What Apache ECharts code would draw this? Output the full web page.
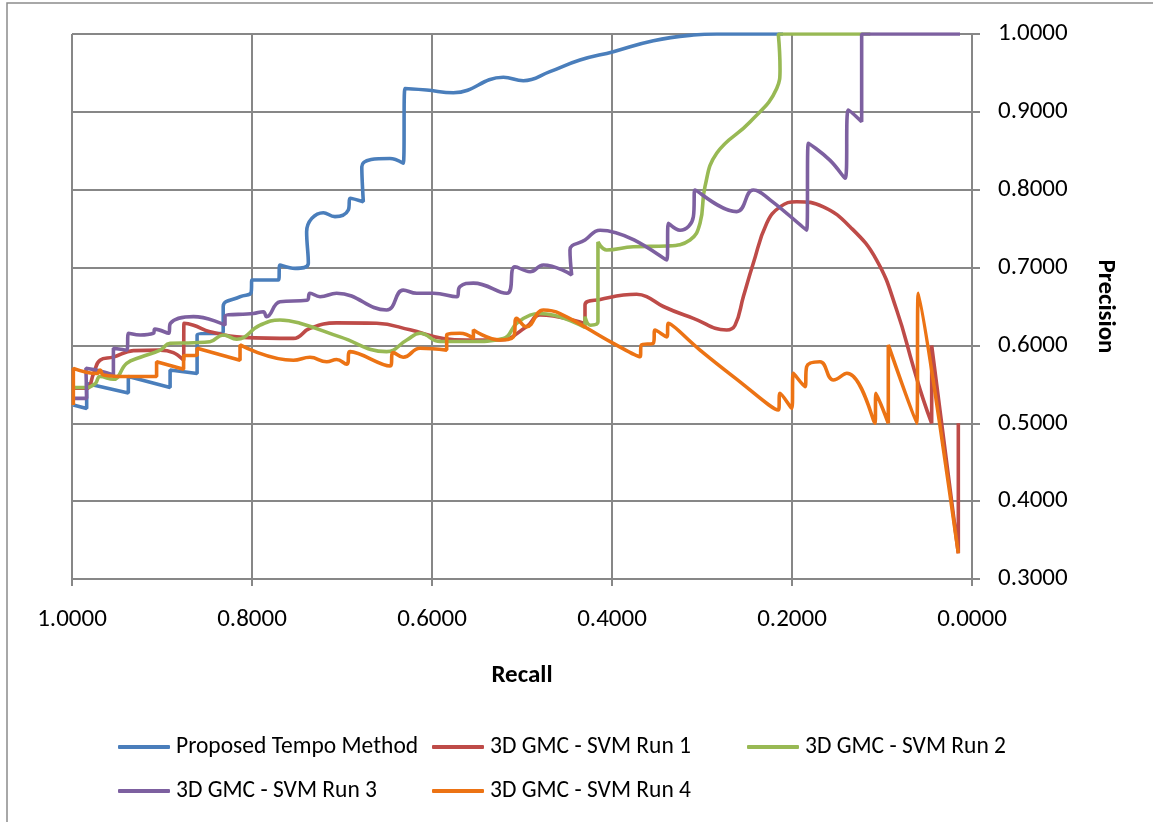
<!DOCTYPE html>
<html>
<head>
<meta charset="utf-8">
<script src="https://cdn.jsdelivr.net/npm/echarts@6/dist/echarts.min.js"></script>
<style>
html,body{margin:0;padding:0;background:#fff;}
#c{width:1153px;height:822px;}
</style>
</head>
<body>
<div id="c"></div>
<script>
// [recall, precision] points
const tempoPts = [[0.9985,0.5235],[0.9837,0.519],[0.9837,0.551],[0.9374,0.539],[0.9374,0.560],[0.891,0.546],[0.891,0.5685],[0.861,0.564],[0.861,0.613],[0.832,0.6177],[0.832,0.650],[0.813,0.6626],[0.801,0.668],[0.800,0.684],[0.7707,0.684],[0.7689,0.7033],[0.7522,0.699],[0.7374,0.7055],[0.7393,0.746],[0.7207,0.7705],[0.7078,0.7654],[0.693,0.774],[0.691,0.789],[0.6763,0.7846],[0.678,0.8296],[0.6467,0.840],[0.632,0.834],[0.630,0.930],[0.606,0.928],[0.5763,0.9246],[0.5207,0.9444],[0.4985,0.940],[0.469,0.9516],[0.4356,0.9666],[0.3985,0.9773],[0.354,0.9914],[0.3096,0.9987],[0.2837,1.0],[0.21,1.0]];
const run1Pts = [[0.9985,0.545],[0.9837,0.545],[0.976,0.564],[0.9689,0.581],[0.9541,0.585],[0.9319,0.5933],[0.902,0.594],[0.8874,0.5907],[0.876,0.581],[0.8756,0.6284],[0.865,0.626],[0.8467,0.6177],[0.8096,0.6104],[0.754,0.609],[0.7356,0.622],[0.706,0.629],[0.6615,0.6284],[0.6244,0.620],[0.5874,0.609],[0.5615,0.607],[0.5244,0.607],[0.495,0.624],[0.48,0.639],[0.43,0.628],[0.43,0.652],[0.413,0.659],[0.3726,0.6657],[0.3615,0.6627],[0.343,0.650],[0.3096,0.6348],[0.2726,0.6198],[0.2633,0.626],[0.254,0.6627],[0.243,0.7055],[0.2281,0.757],[0.2133,0.778],[0.1948,0.7846],[0.1652,0.778],[0.1356,0.7525],[0.106,0.7097],[0.0837,0.6455],[0.0652,0.5727],[0.054,0.530],[0.0448,0.500],[0.0448,0.600],[0.0152,0.333],[0.0152,0.500]];
const run2Pts = [[0.9985,0.546],[0.9837,0.546],[0.9741,0.551],[0.9689,0.56],[0.9541,0.5565],[0.9393,0.577],[0.924,0.5848],[0.902,0.594],[0.891,0.6027],[0.865,0.6035],[0.8467,0.6048],[0.832,0.6134],[0.817,0.608],[0.791,0.626],[0.7689,0.6327],[0.7467,0.6285],[0.7022,0.611],[0.6504,0.592],[0.628,0.607],[0.6133,0.6156],[0.591,0.605],[0.558,0.605],[0.5207,0.609],[0.506,0.6284],[0.491,0.639],[0.48,0.641],[0.43,0.623],[0.43,0.637],[0.424,0.626],[0.4156,0.630],[0.4156,0.733],[0.406,0.7226],[0.3763,0.7268],[0.339,0.7277],[0.3133,0.7354],[0.3022,0.757],[0.2967,0.804],[0.2837,0.8468],[0.2467,0.887],[0.217,0.93],[0.2133,0.955],[0.2152,1.0],[0.113,1.0]];
const run3Pts = [[0.9985,0.532],[0.9837,0.532],[0.9845,0.5706],[0.972,0.568],[0.954,0.562],[0.954,0.5963],[0.9393,0.594],[0.937,0.6156],[0.924,0.6134],[0.9096,0.6156],[0.9078,0.621],[0.8926,0.6156],[0.8907,0.6284],[0.865,0.637],[0.83,0.626],[0.83,0.637],[0.7985,0.641],[0.7874,0.6433],[0.7837,0.637],[0.7689,0.656],[0.739,0.658],[0.7356,0.667],[0.7244,0.6626],[0.706,0.667],[0.6504,0.6455],[0.632,0.671],[0.617,0.667],[0.5985,0.667],[0.5726,0.6626],[0.569,0.6755],[0.5541,0.680],[0.517,0.667],[0.5078,0.701],[0.491,0.6947],[0.4763,0.7033],[0.4448,0.6905],[0.4467,0.7226],[0.43,0.7354],[0.4133,0.748],[0.339,0.7097],[0.3374,0.757],[0.3244,0.748],[0.3096,0.7654],[0.3078,0.7996],[0.2615,0.7718],[0.243,0.7996],[0.2244,0.787],[0.1837,0.748],[0.1819,0.8596],[0.158,0.838],[0.141,0.8147],[0.1374,0.9024],[0.1226,0.8874],[0.1226,1.0],[0.0133,1.0]];
const run4Pts = [[0.9985,0.5235],[0.9985,0.5706],[0.972,0.564],[0.969,0.5685],[0.965,0.562],[0.9393,0.56],[0.906,0.56],[0.906,0.579],[0.876,0.5693],[0.876,0.5864],[0.861,0.5877],[0.861,0.5963],[0.8133,0.581],[0.8133,0.6006],[0.754,0.581],[0.7356,0.5848],[0.717,0.579],[0.706,0.582],[0.6948,0.576],[0.691,0.592],[0.6467,0.5736],[0.643,0.5907],[0.632,0.5848],[0.6133,0.5963],[0.5837,0.594],[0.5837,0.6134],[0.569,0.6156],[0.554,0.609],[0.554,0.62],[0.5244,0.607],[0.5096,0.611],[0.506,0.6348],[0.495,0.624],[0.4763,0.6455],[0.4578,0.641],[0.3985,0.6027],[0.3689,0.5855],[0.3674,0.6006],[0.354,0.603],[0.3522,0.6198],[0.339,0.611],[0.3374,0.6284],[0.3022,0.594],[0.2652,0.56],[0.2152,0.517],[0.2133,0.5385],[0.2003,0.519],[0.1985,0.5642],[0.1856,0.547],[0.1837,0.5728],[0.1689,0.579],[0.154,0.5556],[0.139,0.5642],[0.1078,0.50],[0.1067,0.5385],[0.093,0.50],[0.093,0.6006],[0.0615,0.50],[0.0596,0.667],[0.0152,0.333]];

const seriesNames = ['Proposed Tempo Method','3D GMC - SVM Run 1','3D GMC - SVM Run 2','3D GMC - SVM Run 3','3D GMC - SVM Run 4'];
const seriesData = [tempoPts, run1Pts, run2Pts, run3Pts, run4Pts];
const seriesColors = ['#4A7EBB','#BE4B48','#98B954','#7D60A0','#EC7314'];
const xTickLabels = ['0.0000','0.2000','0.4000','0.6000','0.8000','1.0000'];

const FONT = 'Carlito, Lato, sans-serif';
const chart = echarts.init(document.getElementById('c'), null, {renderer:'canvas'});

const legendPos = [[118,735],[432,735],[747,735],[118,779],[432,779]];
const legends = seriesNames.map((n,i)=>({
  data:[n], left:legendPos[i][0], top:legendPos[i][1], orient:'horizontal',
  icon:'roundRect', itemWidth:52, itemHeight:4, itemGap:5, padding:0,
  textStyle:{fontFamily:FONT, fontSize:23.5, color:'#000', padding:[0,0,0,1]}
}));

chart.setOption({
  animation:false,
  backgroundColor:'#fff',
  textStyle:{fontFamily:FONT},
  graphic:[{type:'rect', shape:{x:7,y:3,width:1200,height:900}, style:{fill:'none', stroke:'#8c8c8c', lineWidth:1.5}, silent:true}],
  grid:{left:72, right:181, top:34, bottom:243, containLabel:false},
  legend: legends,
  xAxis:{
    type:'value', min:0, max:1, interval:0.2, inverse:true,
    axisLine:{show:true, lineStyle:{color:'#878787', width:2}},
    axisTick:{show:true, length:7, lineStyle:{color:'#878787', width:2}},
    splitLine:{show:true, lineStyle:{color:'#878787', width:2}},
    axisLabel:{margin:28, fontSize:25, color:'#000', fontFamily:FONT,
      formatter:(v)=>xTickLabels[Math.round(v*5)]},
    name:'Recall', nameLocation:'middle', nameGap:84,
    nameTextStyle:{fontSize:25, fontWeight:'bold', color:'#000', fontFamily:FONT}
  },
  yAxis:{
    type:'value', position:'right', min:0.3, max:1, interval:0.1,
    axisLine:{show:true, lineStyle:{color:'#878787', width:2}},
    axisTick:{show:true, length:8, lineStyle:{color:'#878787', width:2}},
    splitLine:{show:true, lineStyle:{color:'#878787', width:2}},
    axisLabel:{margin:26, fontSize:25, color:'#000', fontFamily:FONT,
      formatter:(v)=>v.toFixed(4)},
    name:'Precision', nameLocation:'middle', nameGap:121, nameRotate:-90,
    nameTextStyle:{fontSize:25, fontWeight:'bold', color:'#000', fontFamily:FONT}
  },
  series: seriesNames.map((n,i)=>({
    name:n, type:'line', data:seriesData[i], smooth:0.45, symbol:'none',
    lineStyle:{color:seriesColors[i], width:3.6}, itemStyle:{color:seriesColors[i]},
    z: 2+i
  }))
});
</script>
</body>
</html>
